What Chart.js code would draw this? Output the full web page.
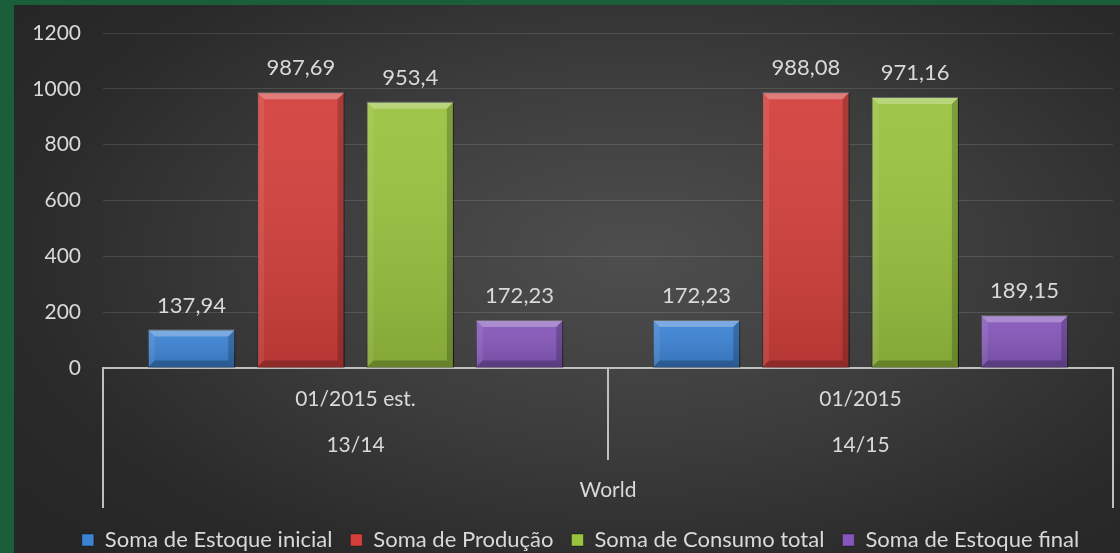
<!DOCTYPE html>
<html>
<head>
<meta charset="utf-8">
<script src="https://cdn.jsdelivr.net/npm/chart.js@4.4.1/dist/chart.umd.min.js"></script>
<style>
  html, body { margin: 0; padding: 0; width: 1120px; height: 553px; overflow: hidden; background: #1b5e3a; }
  #wrap {
    position: absolute; left: 14px; top: 5px; width: 1106px; height: 556px;
    background: radial-gradient(ellipse 70% 75% at 56% 45%, #4e4e4e 0%, #3c3c3c 45%, #2a2a2a 80%, #262626 100%);
  }
</style>
</head>
<body>
<div id="wrap"><canvas id="chart"></canvas></div>
<script>
// dados do gráfico
const categorias = [["01/2015 est.", "13/14"], ["01/2015", "14/15"]];
const tituloX = "World";
const estoqueInicial = [137.94, 172.23];
const producao = [987.69, 988.08];
const consumoTotal = [953.4, 971.16];
const estoqueFinal = [172.23, 189.15];
const nomesSeries = ["Soma de Estoque inicial", "Soma de Produção", "Soma de Consumo total", "Soma de Estoque final"];
const coresSeries = ["#3c83d4", "#d33f3b", "#99c23e", "#8557bb"];

Chart.defaults.font.family = "Lato";
Chart.defaults.color = "#d9d9d9";

// formato com vírgula decimal
function fmt(v) {
    return String(v).replace(".", ",");
}

// sombra em volta das barras
const sombra = {
    id: "sombra",
    beforeDatasetsDraw(chart) {
        const ctx = chart.ctx;
        ctx.save();
        ctx.shadowColor = "rgba(0,0,0,0.55)";
        ctx.shadowBlur = 7;
        ctx.shadowOffsetX = 1;
        ctx.shadowOffsetY = 1;
    },
    afterDatasetsDraw(chart) {
        chart.ctx.restore();
    }
};

// efeito chanfrado + rótulos de dados
const chanfro = {
    id: "chanfro",
    afterDatasetsDraw(chart) {
        const ctx = chart.ctx;
        chart.data.datasets.forEach((ds, di) => {
            chart.getDatasetMeta(di).data.forEach((bar, i) => {
                const p = bar.getProps(["x", "y", "width", "base"], true);
                const l = p.x - p.width / 2, r = p.x + p.width / 2, t = p.y, b = p.base;
                const e = 7;
                ctx.save();
                const g = ctx.createLinearGradient(0, t, 0, b);
                g.addColorStop(0, "rgba(255,255,255,0.06)");
                g.addColorStop(1, "rgba(0,0,0,0.14)");
                ctx.fillStyle = g;
                ctx.fillRect(l, t, r - l, b - t);

                const poly = (pts, cor) => {
                    ctx.beginPath();
                    ctx.moveTo(pts[0][0], pts[0][1]);
                    for (let k = 1; k < pts.length; k++) ctx.lineTo(pts[k][0], pts[k][1]);
                    ctx.closePath();
                    ctx.fillStyle = cor;
                    ctx.fill();
                };
                poly([[l, t], [r, t], [r - e, t + e], [l + e, t + e]], "rgba(255,255,255,0.28)");
                poly([[l, t], [l + e, t + e], [l + e, b - e], [l, b]], "rgba(255,255,255,0.08)");
                poly([[r, t], [r - e, t + e], [r - e, b - e], [r, b]], "rgba(0,0,0,0.20)");
                poly([[l, b], [l + e, b - e], [r - e, b - e], [r, b]], "rgba(0,0,0,0.22)");
                ctx.restore();

                ctx.save();
                ctx.font = "22px Lato";
                ctx.fillStyle = "#d9d9d9";
                ctx.textAlign = "center";
                ctx.textBaseline = "middle";
                ctx.fillText(fmt(ds.data[i]), p.x, t - 24);
                ctx.restore();
            });
        });
    }
};

// linhas divisórias do eixo de categorias em vários níveis
const divisorias = {
    id: "divisorias",
    afterLayout(chart) {
        // legenda um pouco à direita, como no original
        chart.legend.left += 17;
        chart.legend.right += 17;
    },
    afterDraw(chart) {
        const xs = chart.scales.x;
        const ctx = chart.ctx;
        const meio = (xs.getPixelForTick(0) + xs.getPixelForTick(1)) / 2;
        ctx.save();
        ctx.strokeStyle = "#bfbfbf";
        ctx.lineWidth = 2;
        ctx.beginPath();
        ctx.moveTo(xs.left, xs.top);
        ctx.lineTo(xs.left, xs.top + 140);
        ctx.moveTo(xs.right, xs.top);
        ctx.lineTo(xs.right, xs.top + 140);
        ctx.moveTo(meio, xs.top);
        ctx.lineTo(meio, xs.top + 92);
        ctx.stroke();
        ctx.restore();
    }
};

const series = [estoqueInicial, producao, consumoTotal, estoqueFinal];

new Chart(document.getElementById("chart"), {
    type: "bar",
    data: {
        labels: categorias,
        datasets: series.map((d, i) => ({
            label: nomesSeries[i],
            data: d,
            backgroundColor: coresSeries[i],
            borderColor: "rgba(0,0,0,0.35)",
            borderWidth: 1,
            categoryPercentage: 0.866,
            barPercentage: 0.8
        }))
    },
    options: {
        responsive: true,
        maintainAspectRatio: false,
        animation: false,
        layout: { padding: { top: 28, right: 7, left: 0, bottom: 0 } },
        plugins: {
            tooltip: { enabled: false },
            legend: {
                position: "bottom",
                labels: {
                    boxWidth: 12,
                    boxHeight: 12,
                    padding: 18,
                    color: "#d9d9d9",
                    font: { size: 22 }
                }
            }
        },
        scales: {
            x: {
                grid: { display: false },
                border: { display: true, color: "#bfbfbf", width: 2 },
                ticks: {
                    color: "#d9d9d9",
                    padding: 0,
                    font: { size: 21, lineHeight: 2.2 }
                },
                title: {
                    display: true,
                    text: tituloX,
                    color: "#d9d9d9",
                    font: { size: 21, lineHeight: 1.2 },
                    padding: { top: 0, bottom: 8 }
                },
                afterFit(scale) { scale.height = 143; }
            },
            y: {
                min: 0,
                max: 1200,
                ticks: {
                    stepSize: 200,
                    color: "#d9d9d9",
                    padding: 22,
                    font: { size: 21 },
                    callback: (v) => String(v)
                },
                grid: { color: "rgba(255,255,255,0.12)", lineWidth: 1, drawTicks: false },
                border: { display: false },
                afterFit(scale) {
                    scale.width = 89;
                    scale.paddingTop = 0;
                    scale.paddingBottom = 0;
                }
            }
        }
    },
    plugins: [sombra, chanfro, divisorias]
});
</script>
</body>
</html>
